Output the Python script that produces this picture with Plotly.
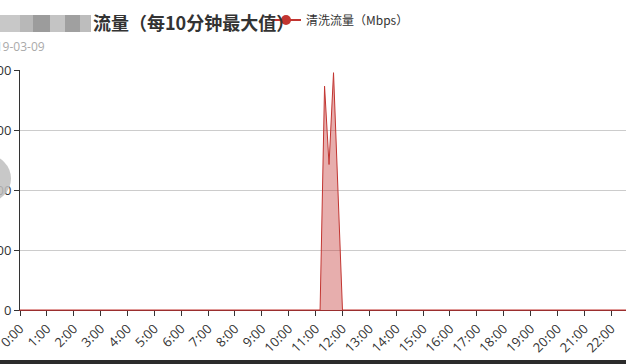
import plotly.graph_objects as go

# ---- data ----
times = [f"{h}:{m:02d}" for h in range(24) for m in range(0, 60, 10)]
values = [0] * 144
values[68] = 746
values[69] = 485
values[70] = 791
values[71] = 400
hour_labels = [f"{h}:00" for h in range(24)]
y_ticks = [0, 200, 400, 600, 800]
series_name = "清洗流量（Mbps）"
title_text = "流量（每10分钟最大值）"
subtitle_text = "2019-03-09"

RED = "#c23531"
FONT = "Noto Sans CJK SC, Open Sans, sans-serif"
NUMFONT = "Open Sans, Noto Sans CJK SC, sans-serif"

W, H = 626, 364
L, R, T, B = 20, 0, 70, 54
pw, ph = W - L - R, H - T - B

def px(x):
    return (x - L) / pw

def py(y):
    return (H - B - y) / ph

fig = go.Figure()
fig.add_trace(go.Scatter(
    x=times, y=values, mode="lines", fill="tozeroy",
    line=dict(color=RED, width=1),
    fillcolor="rgba(194,53,49,0.4)", showlegend=False, hoverinfo="x+y",
))
fig.add_trace(go.Scatter(
    x=[None], y=[None], mode="lines+markers", name=series_name,
    line=dict(color=RED, width=2), marker=dict(color=RED, size=10),
    showlegend=True,
))

shapes = []
# mosaic blocks hiding part of the title
blocks = [(0, 20, "#c8c8c8"), (20, 33, "#b8b8b8"), (33, 50, "#9c9c9c"),
          (50, 65, "#c4c4c4"), (65, 80, "#a0a0a0"), (80, 91, "#bdbdbd")]
for x0, x1, c in blocks:
    shapes.append(dict(type="rect", xref="paper", yref="paper",
                       x0=px(x0), x1=px(x1), y0=py(32), y1=py(15),
                       fillcolor=c, line=dict(width=0), layer="above"))
# gray floating circle on left edge
shapes.append(dict(type="circle", xref="paper", yref="paper",
                   x0=px(-36), x1=px(11), y0=py(202), y1=py(155),
                   fillcolor="rgba(190,190,190,0.85)", line=dict(width=0), layer="above"))
# dark bottom bar
shapes.append(dict(type="rect", xref="paper", yref="paper",
                   x0=px(0), x1=px(W), y0=py(H), y1=py(360),
                   fillcolor="#2b2b2b", line=dict(width=0), layer="above"))

fig.update_layout(
    width=W, height=H,
    margin=dict(l=L, r=R, t=T, b=B, pad=0, autoexpand=False),
    paper_bgcolor="white", plot_bgcolor="white",
    font=dict(family=FONT, size=12, color="#333"),
    title=dict(text=title_text, xref="container", yref="container",
               x=93 / W, xanchor="left", y=1 - 24 / H, yanchor="middle",
               font=dict(size=18, color="#333", family=FONT, weight="bold")),
    legend=dict(orientation="h", xref="container", yref="container",
                x=266 / W, xanchor="left", y=1 - 20 / H, yanchor="middle",
                font=dict(size=12, color="#333"), bgcolor="rgba(0,0,0,0)",
                itemwidth=30),
    annotations=[dict(text=subtitle_text, xref="paper", yref="paper",
                      x=px(47), y=py(47), xanchor="right", yanchor="middle",
                      showarrow=False, font=dict(size=12, color="#aaa", family=NUMFONT))],
    shapes=shapes,
    showlegend=True,
)
fig.update_xaxes(
    type="category", categoryorder="array", categoryarray=times,
    range=[0, pw / (591.2 / 132)], automargin=False,
    tickmode="array", tickvals=hour_labels, ticktext=hour_labels,
    tickangle=-45, ticks="outside", ticklen=5, tickcolor="#333",
    showline=True, linecolor="#9a2e2e", linewidth=1,
    showgrid=False, zeroline=False,
    tickfont=dict(size=13, color="#333", family=NUMFONT),
)
fig.update_yaxes(
    range=[0, 800], tickmode="array", tickvals=y_ticks, automargin=False,
    ticks="outside", ticklen=5, tickcolor="#333",
    showline=True, linecolor="#333", linewidth=1,
    showgrid=True, gridcolor="#ccc", gridwidth=1, zeroline=False,
    tickfont=dict(size=13, color="#333", family=NUMFONT),
)

fig.write_html("out.html")
